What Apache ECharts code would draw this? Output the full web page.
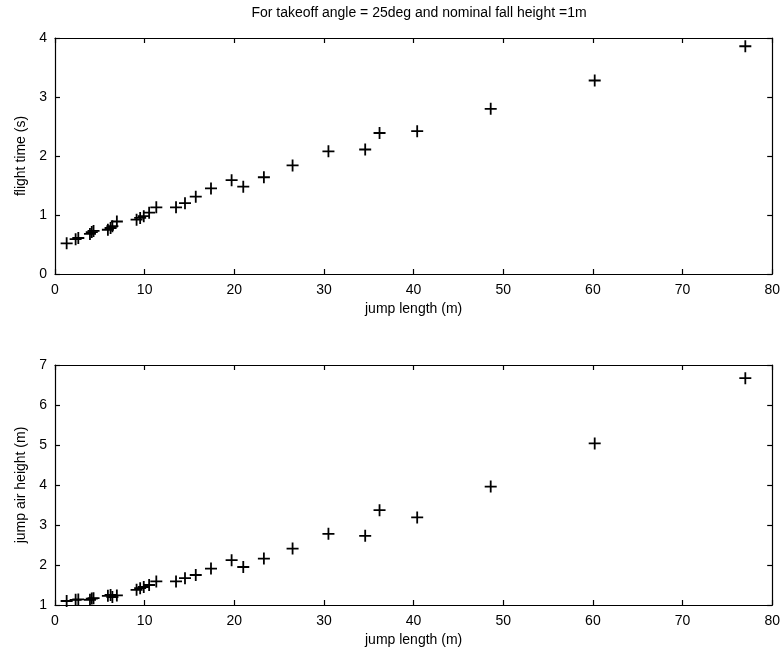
<!DOCTYPE html>
<html>
<head>
<meta charset="utf-8">
<script src="https://cdn.jsdelivr.net/npm/echarts@6/dist/echarts.min.js"></script>
<style>
html,body{margin:0;padding:0;background:#fff;}
#chart{width:783px;height:654px;}
</style>
</head>
<body>
<div id="chart"></div>
<script>
// Jump length (m), shared by both panels
const jumpLength = [1.3, 2.3, 2.6, 3.9, 4.1, 4.3, 5.9, 6.2, 6.4, 6.9, 9.1, 9.5, 9.9, 10.5, 11.3, 13.5, 14.5, 15.7, 17.4, 19.7, 21.0, 23.3, 26.5, 30.5, 34.6, 36.2, 40.4, 48.6, 60.2, 77.0];
// Flight time (s)
const flightTime = [0.52, 0.59, 0.61, 0.68, 0.71, 0.73, 0.75, 0.78, 0.81, 0.89, 0.92, 0.95, 0.98, 1.04, 1.13, 1.13, 1.20, 1.31, 1.45, 1.59, 1.48, 1.64, 1.84, 2.08, 2.11, 2.39, 2.42, 2.80, 3.28, 3.86];
// Jump air height (m)
const airHeight = [1.10, 1.13, 1.14, 1.13, 1.16, 1.17, 1.23, 1.25, 1.20, 1.24, 1.38, 1.42, 1.45, 1.50, 1.59, 1.59, 1.67, 1.75, 1.91, 2.12, 1.95, 2.16, 2.41, 2.78, 2.73, 3.37, 3.19, 3.96, 5.04, 6.67];

const titleText = 'For takeoff angle = 25deg and nominal fall height =1m';
const xName = 'jump length (m)';
const yNameTop = 'flight time (s)';
const yNameBottom = 'jump air height (m)';

const FONT = '"Liberation Sans", Arial, sans-serif';
const plus = 'path://M4.25,0H5.75V4.25H10V5.75H5.75V10H4.25V5.75H0V4.25H4.25Z';

function pairs(xs, ys) { return xs.map((x, i) => [x, ys[i]]); }

const lineStyle = { color: '#000', width: 1.2 };
const labelStyle = { color: '#000', fontFamily: FONT, fontSize: 14 };

function xAxisMain(gridIndex, name) {
  return {
    gridIndex, type: 'value', min: 0, max: 80, interval: 10, position: 'bottom',
    name, nameLocation: 'middle', nameGap: 28,
    nameTextStyle: { color: '#000', fontFamily: FONT, fontSize: 14 },
    axisLine: { show: true, onZero: false, lineStyle },
    axisTick: { show: true, inside: true, length: 5, lineStyle },
    axisLabel: Object.assign({ margin: 9 }, labelStyle),
    splitLine: { show: false }
  };
}
function xAxisTop(gridIndex) {
  return {
    gridIndex, type: 'value', min: 0, max: 80, interval: 10, position: 'top',
    axisLine: { show: true, onZero: false, lineStyle },
    axisTick: { show: true, inside: true, length: 5, lineStyle },
    axisLabel: { show: false }, splitLine: { show: false }
  };
}
function yAxisMain(gridIndex, min, max, name) {
  return {
    gridIndex, type: 'value', min, max, interval: 1, position: 'left',
    name, nameLocation: 'middle', nameGap: 27,
    nameTextStyle: { color: '#000', fontFamily: FONT, fontSize: 14 },
    axisLine: { show: true, onZero: false, lineStyle },
    axisTick: { show: true, inside: true, length: 5, lineStyle },
    axisLabel: Object.assign({ margin: 8 }, labelStyle),
    splitLine: { show: false }
  };
}
function yAxisRight(gridIndex, min, max) {
  return {
    gridIndex, type: 'value', min, max, interval: 1, position: 'right',
    axisLine: { show: true, onZero: false, lineStyle },
    axisTick: { show: true, inside: true, length: 5, lineStyle },
    axisLabel: { show: false }, splitLine: { show: false }
  };
}

const chart = echarts.init(document.getElementById('chart'), null, { renderer: 'canvas' });
chart.setOption({
  backgroundColor: '#fff',
  animation: false,
  title: {
    text: titleText, left: 414, top: 1, textAlign: 'center',
    textStyle: { color: '#000', fontFamily: FONT, fontSize: 14, fontWeight: 'normal' }
  },
  grid: [
    { left: 55, top: 38, width: 718, height: 236 },
    { left: 55, top: 365, width: 718, height: 240 }
  ],
  xAxis: [xAxisMain(0, xName), xAxisTop(0), xAxisMain(1, xName), xAxisTop(1)],
  yAxis: [yAxisMain(0, 0, 4, yNameTop), yAxisRight(0, 0, 4), yAxisMain(1, 1, 7, yNameBottom), yAxisRight(1, 1, 7)],
  series: [
    {
      type: 'scatter', xAxisIndex: 0, yAxisIndex: 0,
      data: pairs(jumpLength, flightTime),
      symbol: plus, symbolSize: 12, symbolKeepAspect: true,
      itemStyle: { color: '#000', opacity: 1 }
    },
    {
      type: 'scatter', xAxisIndex: 2, yAxisIndex: 2,
      data: pairs(jumpLength, airHeight),
      symbol: plus, symbolSize: 12, symbolKeepAspect: true,
      itemStyle: { color: '#000', opacity: 1 }
    }
  ]
});
</script>
</body>
</html>
